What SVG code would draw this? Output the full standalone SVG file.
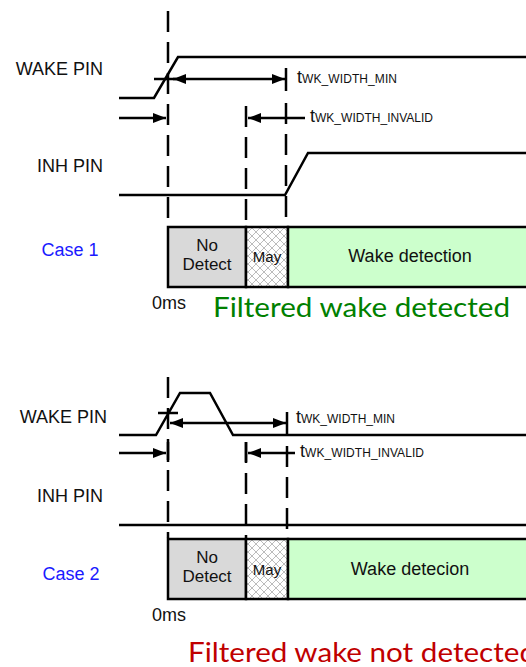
<svg xmlns="http://www.w3.org/2000/svg" width="526" height="667" viewBox="0 0 526 667">
<style>
.lbl{font-family:"Liberation Sans",Arial,sans-serif;font-size:18px;fill:#111}
.nd{font-family:"Liberation Sans",Arial,sans-serif;font-size:17px;fill:#111}
.case{font-family:"Liberation Sans",Arial,sans-serif;font-size:18px;fill:#1a1aff}
.t{font-family:"Liberation Sans",Arial,sans-serif;font-size:18px;fill:#111}
.sub{font-size:12px}
.big{font-family:Lato,"Open Sans",sans-serif;font-size:27px}
.sig{fill:none;stroke:#000;stroke-width:2.5;stroke-linejoin:miter}
.dash{fill:none;stroke:#000;stroke-width:2.5;stroke-dasharray:21 10}
.tick{fill:none;stroke:#000;stroke-width:2.5}
.arr{fill:none;stroke:#000;stroke-width:2.5}
.box{stroke:#000;stroke-width:2.5}
</style>
<defs>
<marker id="ah" viewBox="0 0 13 10" refX="13" refY="5" markerWidth="13" markerHeight="10" markerUnits="userSpaceOnUse" orient="auto-start-reverse">
<path d="M0,0 L13,5 L0,10 z" fill="#000"/>
</marker>
<pattern id="hatch" patternUnits="userSpaceOnUse" width="8" height="8">
<rect width="8" height="8" fill="#fff"/>
<path d="M0,0 L8,8 M8,0 L0,8" stroke="#b4b4b4" stroke-width="0.9"/>
</pattern>
</defs>
<rect width="526" height="667" fill="#fff"/>

<!-- Case 1 -->
<g id="case1-labels">
<text class="lbl" x="103" y="75" text-anchor="end">WAKE PIN</text>
<text class="lbl" x="103" y="172" text-anchor="end">INH PIN</text>
<text class="case" x="70" y="256" text-anchor="middle">Case 1</text>
<text class="lbl" x="169" y="309" text-anchor="middle">0ms</text>
<text class="big" x="213" y="317" fill="#008000" textLength="297" lengthAdjust="spacingAndGlyphs">Filtered wake detected</text>
</g>
<g id="case1-wake-signal"><polyline class="sig" points="119,98 154,98 178,57 526,57"/></g>
<g id="case1-inh-signal"><polyline class="sig" points="119,195 285,195 308,153 526,153"/></g>
<g id="case1-nodetect"><rect class="box" x="168" y="227" width="78" height="60" fill="#d9d9d9"/>
<text class="nd" x="207" y="251" text-anchor="middle">No</text>
<text class="nd" x="207" y="270" text-anchor="middle">Detect</text></g>
<g id="case1-may"><rect class="box" x="246" y="227" width="42" height="60" fill="url(#hatch)"/>
<text class="lbl" x="267" y="262" text-anchor="middle" style="font-size:15px">May</text></g>
<g id="case1-wake"><rect class="box" x="288" y="227" width="245" height="60" fill="#ccffcc"/>
<text class="lbl" x="410" y="262" text-anchor="middle">Wake detection</text></g>
<g id="case1-tmin-label"><text class="t" x="297" y="83">t<tspan class="sub" textLength="95">WK_WIDTH_MIN</tspan></text></g>
<g id="case1-tinv-label"><text class="t" x="310" y="122">t<tspan class="sub" textLength="118">WK_WIDTH_INVALID</tspan></text></g>

<!-- Case 2 -->
<g id="case2-labels">
<text class="lbl" x="107" y="423" text-anchor="end">WAKE PIN</text>
<text class="lbl" x="103" y="502" text-anchor="end">INH PIN</text>
<text class="case" x="71" y="580" text-anchor="middle">Case 2</text>
<text class="lbl" x="169" y="621" text-anchor="middle">0ms</text>
<text class="big" x="188" y="662" fill="#c00000" textLength="348" lengthAdjust="spacingAndGlyphs">Filtered wake not detected</text>
</g>
<g id="case2-wake-signal"><polyline class="sig" points="119,435 156,435 180,393 210,393 233,435 526,435"/></g>
<g id="case2-inh-signal"><polyline class="sig" points="119,525 526,525"/></g>
<g id="case2-nodetect"><rect class="box" x="168" y="539" width="78" height="60" fill="#d9d9d9"/>
<text class="nd" x="207" y="563" text-anchor="middle">No</text>
<text class="nd" x="207" y="582" text-anchor="middle">Detect</text></g>
<g id="case2-may"><rect class="box" x="246" y="539" width="42" height="60" fill="url(#hatch)"/>
<text class="lbl" x="267" y="575" text-anchor="middle" style="font-size:15px">May</text></g>
<g id="case2-wake"><rect class="box" x="288" y="539" width="245" height="60" fill="#ccffcc"/>
<text class="lbl" x="410" y="575" text-anchor="middle">Wake detecion</text></g>
<g id="case2-tmin-label"><text class="t" x="296" y="423">t<tspan class="sub" textLength="94">WK_WIDTH_MIN</tspan></text></g>
<g id="case2-tinv-label"><text class="t" x="300" y="457">t<tspan class="sub" textLength="119">WK_WIDTH_INVALID</tspan></text></g>

<g id="connectors">
<line class="dash" x1="168" y1="11" x2="168" y2="226"/>
<line class="dash" x1="246" y1="106" x2="246" y2="226"/>
<line class="dash" x1="286" y1="103" x2="286" y2="226"/>
<line class="tick" x1="154" y1="79" x2="176" y2="79"/>
<line class="arr" x1="173" y1="79" x2="285" y2="79" marker-start="url(#ah)" marker-end="url(#ah)"/>
<line class="tick" x1="286" y1="68" x2="286" y2="91"/>
<line class="arr" x1="119" y1="118" x2="166" y2="118" marker-end="url(#ah)"/>
<line class="arr" x1="248" y1="118" x2="305" y2="118" marker-start="url(#ah)"/>
<line class="dash" x1="168" y1="377" x2="168" y2="538"/>
<line class="dash" x1="246" y1="442" x2="246" y2="538"/>
<line class="dash" x1="287" y1="446" x2="287" y2="538"/>
<line class="tick" x1="158" y1="413" x2="178" y2="413"/>
<line class="arr" x1="170" y1="423" x2="286" y2="423" marker-start="url(#ah)" marker-end="url(#ah)"/>
<line class="tick" x1="287" y1="412" x2="287" y2="434"/>
<line class="arr" x1="119" y1="453" x2="166" y2="453" marker-end="url(#ah)"/>
<line class="arr" x1="248" y1="453" x2="295" y2="453" marker-start="url(#ah)"/>
<line class="tick" x1="168" y1="442" x2="168" y2="462"/>
<line class="tick" x1="246" y1="442" x2="246" y2="462"/>
</g>
</svg>
